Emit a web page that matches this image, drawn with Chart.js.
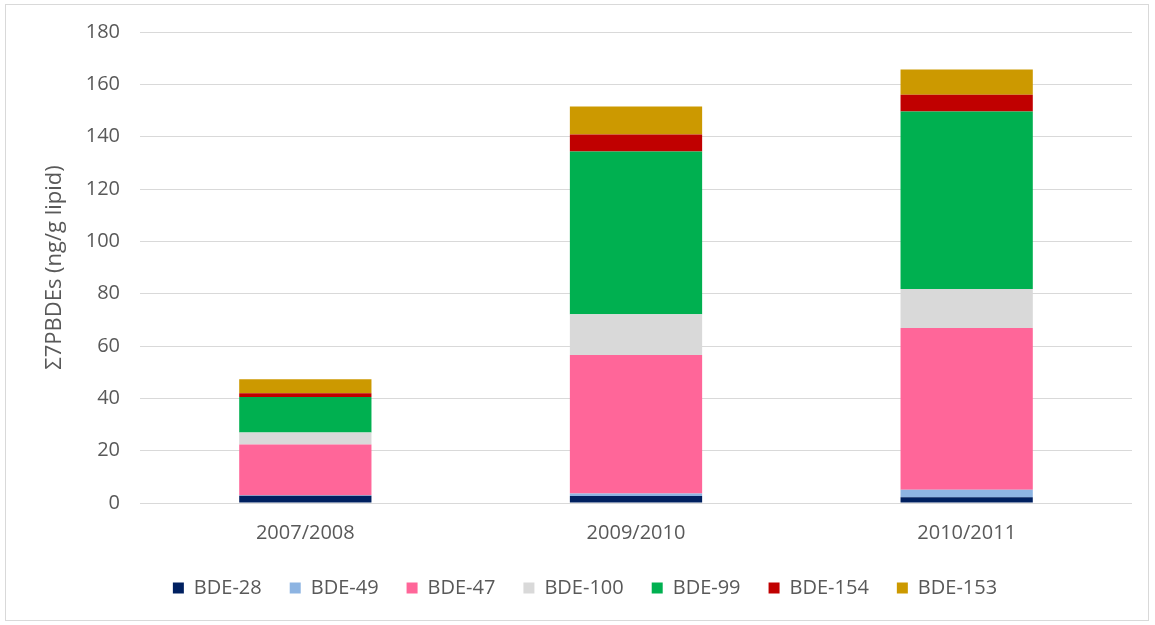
<!DOCTYPE html>
<html lang="en">
<head>
  <meta charset="UTF-8">
  <title>PBDE congeners by period</title>
  <script src="https://cdn.jsdelivr.net/npm/chart.js"></script>
  <style>
    body {
      margin: 0;
      background: #ffffff;
    }
    .chart-wrap {
      position: relative;
      width: 1155px;
      height: 625px;
    }
    /* thin frame around the whole chart */
    .chart-frame {
      position: absolute;
      left: 5px;
      top: 4px;
      width: 1142px;
      height: 615px;
      border: 1px solid #d9d9d9;
      pointer-events: none;
    }
  </style>
</head>
<body>
  <div class="chart-wrap">
    <canvas id="pbdeChart"></canvas>
    <div class="chart-frame"></div>
  </div>

  <script>
// Periods and congener concentrations (ng/g lipid)
const periods = ['2007/2008', '2009/2010', '2010/2011'];
const bde28  = [2.8, 2.7, 2.2];
const bde49  = [0.2, 0.9, 2.9];
const bde47  = [19.4, 53.0, 61.8];
const bde100 = [4.5, 15.5, 14.9];
const bde99  = [13.6, 62.2, 67.8];
const bde154 = [1.4, 6.5, 6.4];
const bde153 = [5.4, 10.7, 9.7];
const yTicks = [0, 20, 40, 60, 80, 100, 120, 140, 160, 180];

const textColor = '#595959';
const fontFamily = "'Open Sans', 'Noto Sans', sans-serif";

const series = [
  { label: 'BDE-28',  data: bde28,  color: '#002060' },
  { label: 'BDE-49',  data: bde49,  color: '#8db4e2' },
  { label: 'BDE-47',  data: bde47,  color: '#ff6699' },
  { label: 'BDE-100', data: bde100, color: '#d9d9d9' },
  { label: 'BDE-99',  data: bde99,  color: '#00b050' },
  { label: 'BDE-154', data: bde154, color: '#c00000' },
  { label: 'BDE-153', data: bde153, color: '#cc9900' }
];

new Chart(document.getElementById('pbdeChart'), {
  type: 'bar',
  data: {
    labels: periods,
    datasets: series.map(s => ({
      label: s.label,
      data: s.data,
      backgroundColor: s.color,
      borderWidth: 0,
      categoryPercentage: 1,
      barPercentage: 0.4
    }))
  },
  options: {
    responsive: true,
    maintainAspectRatio: false,
    animation: false,
    layout: {
      padding: { left: 38, right: 23, top: 24, bottom: 17 }
    },
    plugins: {
      tooltip: { enabled: false },
      legend: {
        position: 'bottom',
        labels: {
          color: textColor,
          font: { family: fontFamily, size: 20 },
          boxWidth: 11,
          boxHeight: 11,
          padding: 28
        }
      }
    },
    scales: {
      x: {
        stacked: true,
        grid: { display: false },
        border: { display: false },
        ticks: {
          color: textColor,
          font: { family: fontFamily, size: 20 },
          padding: 10
        },
        afterFit: axis => { axis.height = 47; }
      },
      y: {
        stacked: true,
        min: 0,
        max: 180,
        afterBuildTicks: axis => {
          axis.ticks = yTicks.map(v => ({ value: v }));
        },
        grid: {
          color: '#d9d9d9',
          lineWidth: 1,
          drawTicks: false
        },
        border: { display: false },
        ticks: {
          color: textColor,
          font: { family: fontFamily, size: 20 },
          padding: 20
        },
        title: {
          display: true,
          text: 'Σ7PBDEs (ng/g lipid)',
          color: textColor,
          font: { family: fontFamily, size: 22 },
          padding: { top: 4, bottom: 0 }
        },
        afterFit: axis => { axis.width = 102; }
      }
    }
  }
});
  </script>
</body>
</html>
